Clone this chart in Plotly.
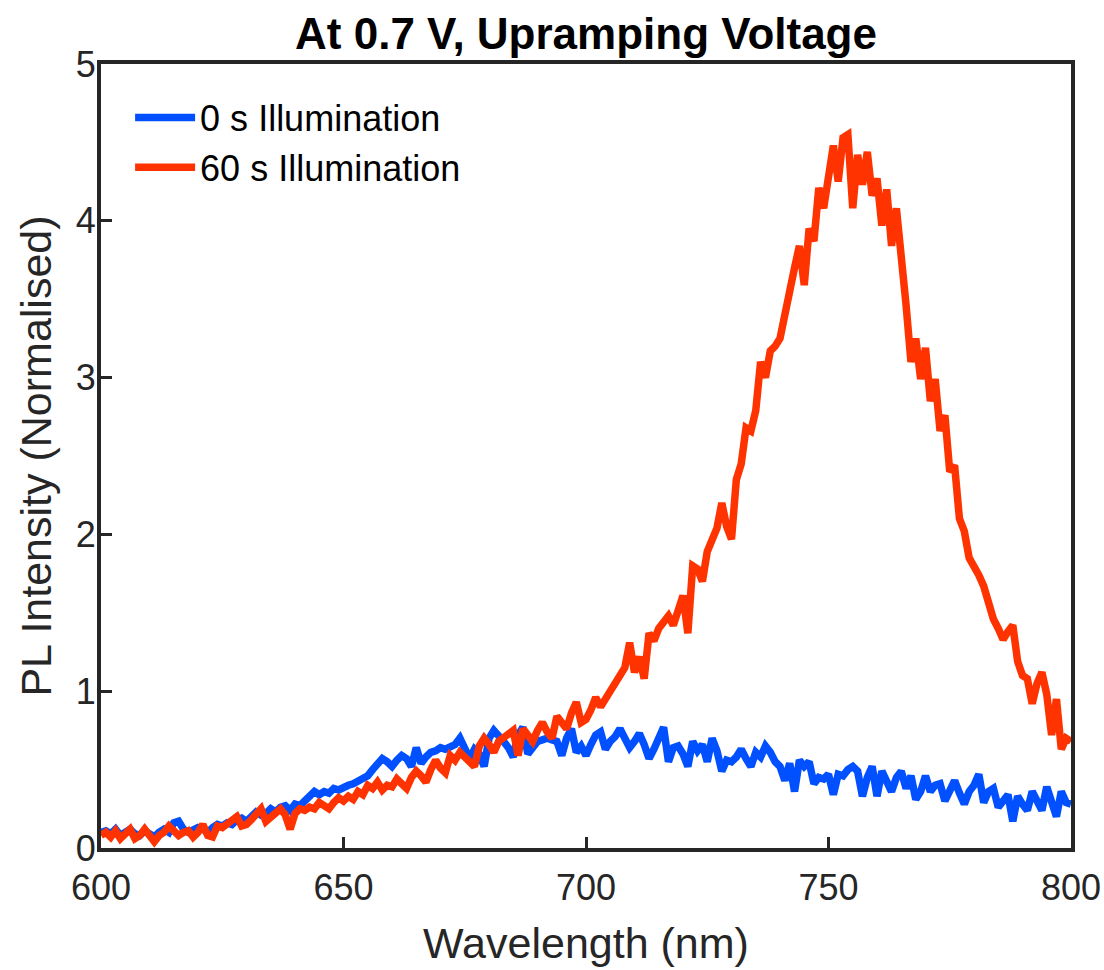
import plotly.graph_objects as go

wavelength = list(range(600, 801))

intensity_0s = [
    0.10, 0.11, 0.09, 0.12, 0.08, 0.10, 0.12, 0.09, 0.08, 0.11,  # 600-609
    0.09, 0.07, 0.10, 0.12, 0.10, 0.16, 0.17, 0.12, 0.10, 0.11,  # 610-619
    0.13, 0.12, 0.10, 0.13, 0.15, 0.14, 0.16, 0.15, 0.18, 0.19,  # 620-629
    0.17, 0.20, 0.23, 0.21, 0.22, 0.25, 0.23, 0.26, 0.27, 0.24,  # 630-639
    0.28, 0.27, 0.30, 0.33, 0.36, 0.34, 0.36, 0.35, 0.38, 0.37,  # 640-649
    0.39, 0.40, 0.41, 0.43, 0.44, 0.46, 0.50, 0.53, 0.57, 0.55,  # 650-659
    0.52, 0.56, 0.59, 0.57, 0.52, 0.64, 0.54, 0.58, 0.61, 0.62,  # 660-669
    0.64, 0.63, 0.65, 0.66, 0.70, 0.62, 0.57, 0.63, 0.60, 0.52,  # 670-679
    0.70, 0.75, 0.72, 0.68, 0.64, 0.58, 0.72, 0.77, 0.60, 0.65,  # 680-689
    0.68, 0.69, 0.70, 0.69, 0.68, 0.59, 0.70, 0.76, 0.61, 0.65,  # 690-699
    0.59, 0.66, 0.72, 0.74, 0.63, 0.68, 0.71, 0.76, 0.70, 0.64,  # 700-709
    0.68, 0.73, 0.66, 0.57, 0.63, 0.70, 0.77, 0.55, 0.64, 0.65,  # 710-719
    0.60, 0.52, 0.68, 0.62, 0.66, 0.55, 0.70, 0.62, 0.49, 0.56,  # 720-729
    0.55, 0.58, 0.63, 0.57, 0.52, 0.61, 0.58, 0.65, 0.61, 0.55,  # 730-739
    0.52, 0.43, 0.54, 0.36, 0.56, 0.52, 0.55, 0.41, 0.45, 0.44,  # 740-749
    0.47, 0.34, 0.47, 0.46, 0.50, 0.52, 0.49, 0.33, 0.45, 0.52,  # 750-759
    0.33, 0.49, 0.43, 0.36, 0.45, 0.49, 0.38, 0.46, 0.31, 0.36,  # 760-769
    0.46, 0.36, 0.40, 0.41, 0.30, 0.38, 0.43, 0.35, 0.28, 0.36,  # 770-779
    0.40, 0.47, 0.29, 0.36, 0.38, 0.26, 0.30, 0.34, 0.17, 0.33,  # 780-789
    0.28, 0.24, 0.36, 0.30, 0.24, 0.39, 0.30, 0.20, 0.36, 0.29,  # 790-799
    0.28,                                                        # 800
]

intensity_60s = [
    0.08, 0.10, 0.07, 0.11, 0.06, 0.09, 0.12, 0.06, 0.08, 0.12,  # 600-609
    0.07, 0.04, 0.08, 0.10, 0.14, 0.11, 0.08, 0.10, 0.11, 0.07,  # 610-619
    0.10, 0.15, 0.08, 0.07, 0.14, 0.13, 0.15, 0.18, 0.20, 0.14,  # 620-629
    0.15, 0.18, 0.21, 0.25, 0.17, 0.20, 0.22, 0.25, 0.21, 0.12,  # 630-639
    0.22, 0.25, 0.24, 0.26, 0.25, 0.29, 0.27, 0.25, 0.29, 0.32,  # 640-649
    0.30, 0.33, 0.31, 0.36, 0.34, 0.40, 0.38, 0.42, 0.37, 0.40,  # 650-659
    0.39, 0.44, 0.41, 0.38, 0.45, 0.49, 0.46, 0.42, 0.50, 0.56,  # 660-669
    0.51, 0.48, 0.59, 0.56, 0.61, 0.58, 0.55, 0.52, 0.65, 0.70,  # 670-679
    0.66, 0.61, 0.68, 0.70, 0.73, 0.75, 0.59, 0.76, 0.72, 0.68,  # 680-689
    0.75, 0.80, 0.74, 0.70, 0.84, 0.80, 0.76, 0.86, 0.93, 0.80,  # 690-699
    0.82, 0.88, 0.96, 0.90, 0.95, 1.00, 1.04, 1.10, 1.15, 1.31,  # 700-709
    1.12, 1.22, 1.08, 1.37, 1.32, 1.40, 1.45, 1.48, 1.42, 1.50,  # 710-719
    1.61, 1.37, 1.80, 1.78, 1.70, 1.89, 1.97, 2.04, 2.20, 2.05,  # 720-729
    1.97, 2.35, 2.45, 2.68, 2.66, 2.79, 3.10, 3.00, 3.17, 3.20,  # 730-739
    3.25, 3.43, 3.55, 3.70, 3.84, 3.59, 3.95, 3.87, 4.21, 4.08,  # 740-749
    4.32, 4.48, 4.25, 4.53, 4.55, 4.08, 4.42, 4.23, 4.44, 4.16,  # 750-759
    4.27, 3.97, 4.20, 3.84, 4.08, 3.80, 3.46, 3.10, 3.25, 2.99,  # 760-769
    3.19, 2.85, 2.99, 2.66, 2.76, 2.40, 2.44, 2.10, 2.02, 1.85,  # 770-779
    1.80, 1.74, 1.67, 1.55, 1.46, 1.40, 1.33, 1.38, 1.42, 1.19,  # 780-789
    1.10, 1.08, 0.92, 1.05, 1.12, 0.98, 0.72, 0.95, 0.63, 0.70,  # 790-799
    0.68,                                                        # 800
]

series_names = ["0 s Illumination", "60 s Illumination"]
series_colors = ["#0050FF", "#FF3300"]

x_ticks = [600, 650, 700, 750, 800]
y_ticks = [0, 1, 2, 3, 4, 5]

FONT = "Liberation Sans, Arial, Helvetica, sans-serif"
INK = "#262626"

fig = go.Figure()
for name, ys, col in zip(series_names, [intensity_0s, intensity_60s], series_colors):
    fig.add_trace(go.Scatter(
        x=wavelength, y=ys, mode="lines", name=name,
        line=dict(color=col, width=7.5),
    ))

axis_common = dict(
    showline=True, mirror=True, linecolor=INK, linewidth=4,
    ticks="inside", ticklen=11, tickwidth=3, tickcolor=INK,
    showgrid=False, zeroline=False, automargin=False,
    tickfont=dict(family=FONT, size=36, color=INK),
)

fig.update_xaxes(
    range=[600, 800], tickvals=x_ticks,
    ticklabelstandoff=5,
    title=dict(text="Wavelength (nm)", font=dict(family=FONT, size=43, color=INK), standoff=22),
    **axis_common,
)
fig.update_yaxes(
    range=[0, 5], tickvals=y_ticks,
    ticklabelstandoff=-6,
    title=dict(text="PL Intensity (Normalised)", font=dict(family=FONT, size=43, color=INK), standoff=12),
    **axis_common,
)

fig.update_layout(
    width=1104, height=970,
    margin=dict(l=101, r=33, t=64, b=122),
    plot_bgcolor="white", paper_bgcolor="white",
    title=dict(
        text="<b>At 0.7 V, Upramping Voltage</b>",
        font=dict(family=FONT, size=44, color="black"),
        x=0.5, xref="paper", xanchor="center",
        y=1, yref="paper", yanchor="bottom", pad=dict(b=15),
    ),
    legend=dict(
        x=0.03, y=0.97, xanchor="left", yanchor="top",
        bgcolor="rgba(0,0,0,0)", borderwidth=0,
        font=dict(family=FONT, size=36, color="black"),
        itemwidth=60, tracegroupgap=0,
    ),
    showlegend=True,
)

fig.write_html("out.html")
